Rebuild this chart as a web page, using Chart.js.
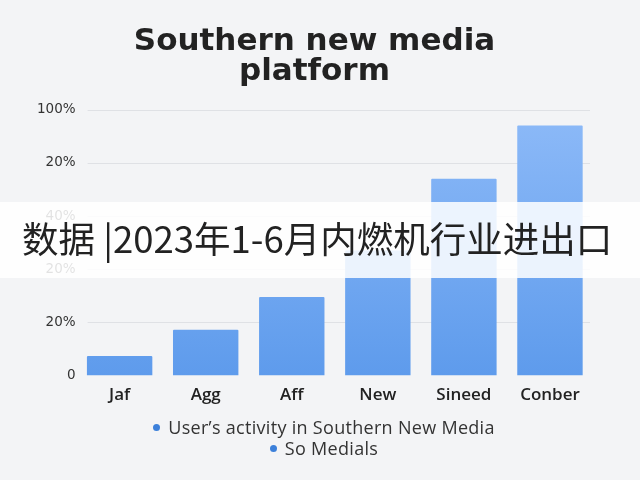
<!DOCTYPE html>
<html>
<head>
<meta charset="utf-8">
<script src="https://cdn.jsdelivr.net/npm/chart.js@4.4.1/dist/chart.umd.min.js"></script>
<style>
  html, body { margin:0; padding:0; background:#f3f4f6; }
  #wrap { position:relative; width:640px; height:480px; overflow:hidden; background:#f3f4f6; }
  #c { position:absolute; left:0; top:0; }
  #legend { position:absolute; left:4px; top:417px; width:640px; text-align:center;
            font-family:"Open Sans", sans-serif; font-size:18px; letter-spacing:0.3px; color:#333; line-height:21px; }
  #legend .dot { display:inline-block; width:7px; height:7px; border-radius:50%; background:#3c80da;
                 margin-right:8px; vertical-align:middle; position:relative; top:-2px; }
  #banner { position:absolute; left:0; top:202px; width:640px; height:76px;
            background:rgba(255,255,255,0.86); }
  #banner span { position:absolute; left:22px; top:13px; font-family:"Noto Sans CJK SC", sans-serif;
                 font-size:36.5px; line-height:46px; color:#222; white-space:nowrap; }
</style>
</head>
<body>
<div id="wrap">
  <canvas id="c" width="640" height="480"></canvas>
  <div id="legend"></div>
  <div id="banner"><span id="bannerText"></span></div>
</div>
<script>
const categories = ['Jaf', 'Agg', 'Aff', 'New', 'Sineed', 'Conber'];
const activityValues = [0.37, 0.86, 1.48, 2.35, 3.70, 4.70];
const seriesNames = ["User\u2019s activity in Southern New Media", 'So Medials'];
const yTickLabels = ['0', '20%', '20%', '40%', '20%', '100%'];
const titleLines = ['Southern new media', 'platform'];
const bannerText = '数据 |2023年1-6月内燃机行业进出口';

document.getElementById('bannerText').textContent = bannerText;
document.getElementById('legend').innerHTML = seriesNames
  .map(n => '<div><span class="dot"></span>' + n + '</div>').join('');

function barGradient(ctx) {
  const chart = ctx.chart;
  const area = chart.chartArea;
  if (!area) return '#6fa6f0';
  const g = chart.ctx.createLinearGradient(0, area.top, 0, area.bottom);
  g.addColorStop(0, '#8dbaf8');
  g.addColorStop(1, '#5e9bec');
  return g;
}

const gridPlugin = {
  id: 'customGrid',
  beforeDatasetsDraw(chart) {
    const y = chart.scales.y, a = chart.chartArea, c = chart.ctx;
    c.save();
    c.strokeStyle = '#dfe1e5';
    c.lineWidth = 1;
    y.ticks.forEach(t => {
      if (t.value === 0) return;
      const py = Math.round(y.getPixelForValue(t.value)) + 0.5;
      c.beginPath();
      c.moveTo(a.left + 11, py);
      c.lineTo(a.right - 3, py);
      c.stroke();
    });
    c.restore();
  }
};

new Chart(document.getElementById('c'), {
  type: 'bar',
  data: {
    labels: categories,
    datasets: [{
      label: seriesNames[0],
      data: activityValues,
      backgroundColor: barGradient,
      borderWidth: 0,
      borderRadius: 1,
      categoryPercentage: 1,
      barPercentage: 0.76
    }]
  },
  options: {
    responsive: false,
    animation: false,
    devicePixelRatio: 1,
    layout: { padding: { left: 36, right: 47, top: 0, bottom: 66 } },
    plugins: {
      legend: { display: false },
      tooltip: { enabled: false },
      title: {
        display: true,
        text: titleLines,
        color: '#222',
        font: { family: 'DejaVu Sans', size: 31, weight: 'bold', lineHeight: 0.97 },
        padding: { top: 27, bottom: 22.5 }
      }
    },
    scales: {
      x: {
        grid: { display: false, drawTicks: false },
        border: { display: false },
        ticks: { color: '#222', font: { family: 'Open Sans', size: 17, weight: '600' }, padding: 9 }
      },
      y: {
        min: 0, max: 5,
        grid: { display: false, drawTicks: false },
        border: { display: false },
        ticks: {
          stepSize: 1,
          color: '#333',
          padding: 1,
          font: { family: 'DejaVu Sans', size: 13.5 },
          callback: (v) => yTickLabels[v]
        }
      }
    }
  },
  plugins: [gridPlugin]
});
</script>
</body>
</html>
